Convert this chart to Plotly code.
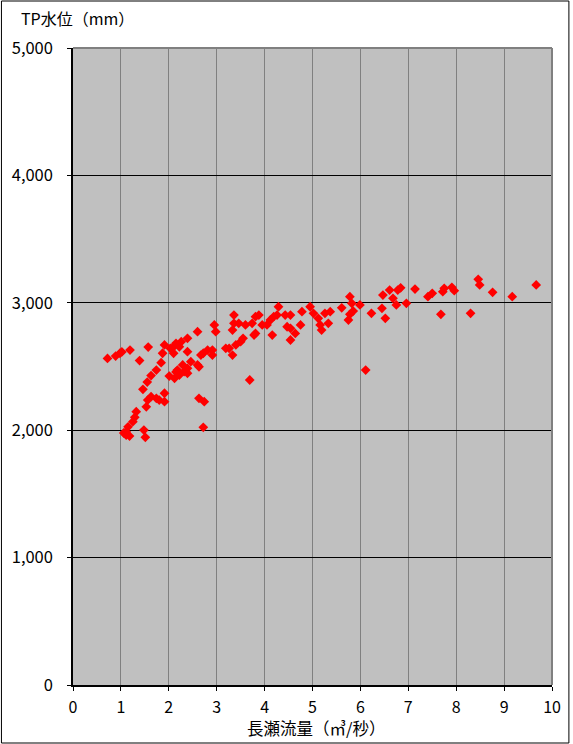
import plotly.graph_objects as go

# 長瀬流量 (m3/s)
flow = [
    0.72, 0.89, 0.98, 1.02, 1.19, 1.39, 1.57,
    1.87, 1.91, 2.03, 2.10, 2.10, 2.15, 2.22, 2.26, 2.39, 2.39, 2.60, 2.95, 2.98,
    2.91, 2.91, 2.72, 2.81,
    1.84, 1.74, 1.63, 1.55, 1.46, 1.56, 1.63, 1.74, 1.80, 1.91, 1.91, 1.53,
    1.32, 1.29, 1.25, 1.15, 1.11, 1.11, 1.18, 1.06, 1.48, 1.51,
    2.01, 2.12, 2.15, 2.18, 2.22, 2.29, 2.32, 2.39, 2.39, 2.46, 2.60, 2.63, 2.67,
    2.63, 2.74, 2.72,
    3.19, 3.26, 3.33, 3.40, 3.50, 3.55, 3.36, 3.36, 3.46, 3.60, 3.74, 3.78, 3.69, 3.33,
    3.81, 3.88, 3.95, 3.81, 4.05, 4.12, 4.19, 4.26, 4.29, 4.16, 4.43, 4.54, 4.47, 4.54,
    4.75, 4.64, 4.54, 4.78, 4.95, 5.02, 5.12, 5.16, 5.19, 5.26, 5.37, 5.33,
    5.61, 5.75, 5.78, 5.82, 5.85, 5.78, 5.99, 6.11, 6.23, 6.45, 6.52, 6.47, 6.61,
    6.68, 6.78, 6.84, 6.75, 6.96, 7.14, 7.41, 7.50, 7.72, 7.75, 7.91, 7.96, 7.68,
    8.46, 8.49, 8.76, 8.30, 9.17, 9.67,
]

# TP水位 (mm)
level = [
    2563, 2582, 2604, 2614, 2629, 2547, 2653,
    2604, 2669, 2643, 2655, 2604, 2682, 2655, 2695, 2721, 2616, 2773, 2826, 2773,
    2629, 2590, 2604, 2629,
    2530, 2472, 2429, 2378, 2321, 2237, 2263, 2250, 2237, 2224, 2290, 2184,
    2145, 2101, 2067, 2027, 1988, 1962, 1954, 1978, 2001, 1944,
    2425, 2407, 2457, 2472, 2433, 2512, 2459, 2486, 2447, 2538, 2512, 2498, 2590,
    2250, 2224, 2023,
    2643, 2643, 2590, 2669, 2695, 2721, 2904, 2839, 2839, 2826, 2839, 2747, 2394, 2786,
    2891, 2904, 2826, 2760, 2826, 2865, 2891, 2904, 2969, 2747, 2904, 2904, 2812, 2800,
    2826, 2760, 2708, 2930, 2969, 2917, 2878, 2826, 2786, 2917, 2930, 2839,
    2961, 2865, 3048, 2996, 2935, 2910, 2983, 2472, 2917, 2957, 2878, 3061, 3100,
    3035, 3100, 3118, 2983, 2996, 3108, 3048, 3074, 3087, 3114, 3122, 3095, 2910,
    3184, 3140, 3082, 2917, 3048, 3140,
]

x_ticks = list(range(0, 11))
y_ticks = [0, 1000, 2000, 3000, 4000, 5000]
y_tick_text = ["0", "1,000", "2,000", "3,000", "4,000", "5,000"]

FONT = "Noto Sans CJK JP"

W, H = 573, 744
ML, MR, MT, MB = 73, 18, 48, 59
PW, PH = W - ML - MR, H - MT - MB


def px(xp):
    return (xp - ML) / PW


def py(yp):
    return (H - MB - yp) / PH


fig = go.Figure()
fig.add_trace(go.Scatter(
    x=flow, y=level, mode="markers",
    marker=dict(symbol="diamond", size=7.5, color="#FF0000", line=dict(width=0)),
    showlegend=False, hoverinfo="x+y",
))

fig.update_layout(
    width=W, height=H,
    margin=dict(l=ML, r=MR, t=MT, b=MB, pad=0),
    paper_bgcolor="white",
    plot_bgcolor="#C0C0C0",
    font=dict(family=FONT, size=16, color="black"),
    xaxis=dict(
        range=[0, 10], tickvals=x_ticks, ticktext=[str(v) for v in x_ticks],
        showgrid=True, gridcolor="#808080", gridwidth=1,
        showline=True, linecolor="black", linewidth=1.5,
        ticks="outside", ticklen=4, tickcolor="black",
        tickfont=dict(family=FONT, size=16),
        ticklabelstandoff=3,
        zeroline=False, fixedrange=True,
    ),
    yaxis=dict(
        range=[0, 5000], tickvals=y_ticks, ticktext=y_tick_text,
        showgrid=True, gridcolor="black", gridwidth=1,
        showline=True, linecolor="black", linewidth=1.5,
        ticks="outside", ticklen=4, tickcolor="black",
        tickfont=dict(family=FONT, size=16.5),
        ticklabelstandoff=11,
        zeroline=False, fixedrange=True,
    ),
    shapes=[
        # plot-area border (right/top)
        dict(type="line", xref="paper", yref="paper", x0=1, x1=1, y0=0, y1=1,
             line=dict(color="#808080", width=2), layer="above"),
        dict(type="line", xref="paper", yref="paper", x0=0, x1=1, y0=1, y1=1,
             line=dict(color="#808080", width=2), layer="above"),
        # chart-area border
        dict(type="rect", xref="paper", yref="paper",
             x0=px(1), x1=px(W - 1), y0=py(H - 1), y1=py(1),
             line=dict(color="black", width=1), fillcolor="rgba(0,0,0,0)", layer="above"),
    ],
    annotations=[
        dict(text="TP水位（mm）", xref="paper", yref="paper",
             x=px(19), y=py(18), xanchor="left", yanchor="middle",
             showarrow=False, font=dict(family=FONT, size=16)),
        dict(text="長瀬流量（㎥/秒）", xref="paper", yref="paper",
             x=px(318), y=py(728), xanchor="center", yanchor="middle",
             showarrow=False, font=dict(family=FONT, size=16.5)),
    ],
)

fig.write_html(
    "out.html",
    config={"displayModeBar": False},
    post_script="document.body.style.margin='0';document.body.style.overflow='hidden';",
)
